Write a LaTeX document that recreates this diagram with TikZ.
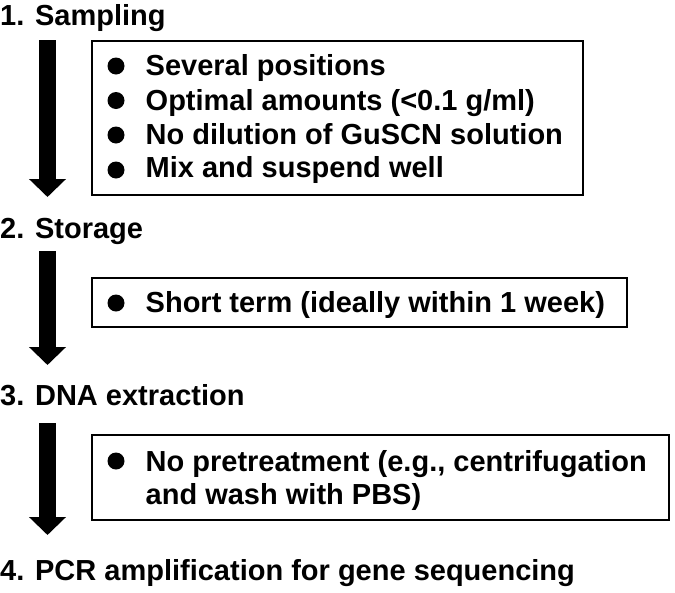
\documentclass[tikz,border=0pt]{standalone}
\usepackage{fontspec}
\setmainfont{Liberation Sans}
\usetikzlibrary{arrows.meta}
\begin{document}
\begin{tikzpicture}[x=1pt,y=-1pt,
  title/.style={anchor=base west, inner sep=0pt, font=\bfseries\fontsize{29}{33}\selectfont},
  item/.style={anchor=base west, inner sep=0pt, font=\bfseries\fontsize{29}{33}\selectfont},
  dot/.style={circle, fill=black, inner sep=0pt, minimum size=17pt},
  panel/.style={draw=black, line width=1.6pt, anchor=north west, inner sep=0pt, outer sep=0pt},
  flow/.style={line width=17pt, -{Triangle[width=36pt,length=18pt]}}]
\useasboundingbox (0,0) rectangle (675,592);

% step titles
\node[title] (t1) at (0,25) {1. Sampling};
\node[title] (t2) at (0,238) {2. Storage};
\node[title] (t3) at (0,405) {3. DNA extraction};
\node[title] (t4) at (0,580) {4. PCR amplification for gene sequencing};

% arrows
\coordinate (a1s) at (47.5,40);  \coordinate (a1e) at (47.5,197);
\coordinate (a2s) at (47.5,251); \coordinate (a2e) at (47.5,365);
\coordinate (a3s) at (47.5,423); \coordinate (a3e) at (47.5,535);
\draw[flow] (a1s) -- (a1e);
\draw[flow] (a2s) -- (a2e);
\draw[flow] (a3s) -- (a3e);

% boxes
\node[panel, minimum width=491pt, minimum height=154pt] (b1) at (92,41) {};
\node[panel, minimum width=535pt, minimum height=49pt] (b2) at (92,278) {};
\node[panel, minimum width=577pt, minimum height=85pt] (b3) at (92,435) {};

% box 1 items
\node[dot] (d11) at (116,66) {};
\node[item] (i11) at (145.5,75.7) {Several positions};
\node[dot] (d12) at (116,100.5) {};
\node[item] (i12) at (145.5,110) {Optimal amounts (<0.1 g/ml)};
\node[dot] (d13) at (116,135) {};
\node[item] (i13) at (145.5,144) {No dilution of GuSCN solution};
\node[dot] (d14) at (116,170) {};
\node[item] (i14) at (145.5,177.5) {Mix and suspend well};

% box 2
\node[dot] (d21) at (116,303) {};
\node[item] (i21) at (145.5,312.7) {Short term (ideally within 1 week)};

% box 3
\node[dot] (d31) at (116,461) {};
\node[item] (i31) at (145.5,471) {No pretreatment (e.g., centrifugation};
\node[item] (i32) at (145.5,504) {and wash with PBS)};
\end{tikzpicture}
\end{document}
